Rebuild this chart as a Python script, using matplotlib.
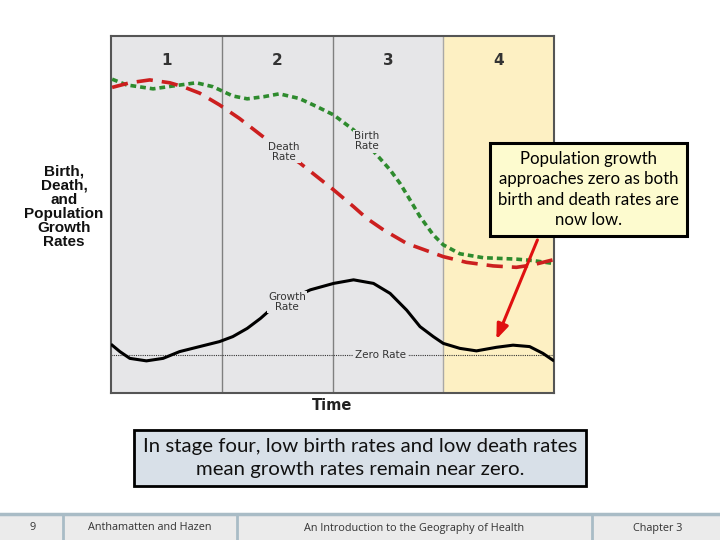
import matplotlib
matplotlib.use("Agg")
import matplotlib.pyplot as plt
from matplotlib.patches import Rectangle

# stage axis: 0..4 (one unit per stage), rates 0..100
stage_labels = ["1", "2", "3", "4"]

birth_x = [0.01, 0.14, 0.38, 0.56, 0.77, 0.92, 1.10, 1.23, 1.38, 1.52, 1.70, 1.86, 2.01,
           2.19, 2.40, 2.52, 2.61, 2.70, 2.79, 2.91, 3.00, 3.15, 3.36, 3.66, 3.81, 3.99]
birth_y = [87.9, 86.3, 85.2, 86.0, 86.9, 85.8, 83.2, 82.4, 83.0, 83.8, 82.5, 80.2, 77.9,
           73.7, 66.7, 62.5, 58.7, 54.1, 49.4, 44.3, 41.5, 39.0, 37.9, 37.5, 37.1, 36.3]

death_x = [0.01, 0.17, 0.35, 0.53, 0.65, 0.80, 0.98, 1.16, 1.41, 1.71, 1.86, 2.01, 2.19,
           2.31, 2.46, 2.67, 3.00, 3.21, 3.45, 3.66, 3.81, 3.99]
death_y = [85.6, 86.9, 87.7, 86.9, 85.8, 84.0, 80.7, 76.9, 70.9, 64.3, 60.6, 56.9, 52.2,
           48.9, 45.7, 41.9, 38.2, 36.6, 35.6, 35.2, 35.9, 37.3]

growth_x = [0.01, 0.08, 0.17, 0.32, 0.47, 0.62, 0.80, 0.98, 1.10, 1.23, 1.35, 1.47, 1.80,
            2.01, 2.19, 2.37, 2.52, 2.67, 2.79, 2.91, 3.00, 3.15, 3.30, 3.48, 3.63, 3.78,
            3.90, 3.99]
growth_y = [13.4, 11.6, 9.7, 9.0, 9.7, 11.6, 13.0, 14.4, 15.8, 18.1, 20.9, 24.2, 28.9,
            30.7, 31.7, 30.7, 27.9, 23.2, 18.6, 15.8, 13.9, 12.5, 11.8, 12.8, 13.4, 13.0,
            11.1, 9.2]

zero_rate = 10.6

bg_grey = "#E6E6E8"
stage4_col = "#FDF0C3"

fig = plt.figure(figsize=(7.2, 5.4), dpi=100)

# footer band
bg = fig.add_axes([0, 0, 1, 1])
bg.set_xlim(0, 720)
bg.set_ylim(540, 0)
bg.axis("off")
bg.add_patch(Rectangle((0, 514), 720, 26, facecolor="#EBEBEB", edgecolor="none"))
bg.plot([0, 720], [514, 514], color="#A9BCC6", lw=2.5)
for sx in [63, 237, 592]:
    bg.plot([sx, sx], [514, 540], color="#A9BCC6", lw=2)
foot_kw = dict(ha="center", va="center", fontsize=7.8, color="#333333", family="Open Sans")
bg.text(33, 528, "9", **foot_kw)
bg.text(150, 528, "Anthamatten and Hazen", **foot_kw)
bg.text(414, 528, "An Introduction to the Geography of Health", **foot_kw)
bg.text(658, 528, "Chapter 3", **foot_kw)

# main chart
ax = fig.add_axes([111 / 720, 147 / 540, 443 / 720, 357 / 540])
ax.set_xlim(0, 4)
ax.set_ylim(0, 100)
ax.set_facecolor(bg_grey)
ax.axvspan(3, 4, color=stage4_col, zorder=0)
for s in [1, 2]:
    ax.axvline(s, color="#808080", lw=1, zorder=1)
ax.axvline(3, color="#A8A8A8", lw=1, zorder=1)
for sp in ax.spines.values():
    sp.set_color("#555555")
    sp.set_linewidth(1.5)
ax.set_xticks([])
ax.set_yticks([])

for i, lab in enumerate(stage_labels):
    ax.text(i + 0.5, 93, lab, ha="center", va="center", fontsize=11,
            fontweight="bold", color="#333333")

ax.axhline(zero_rate, color="#333333", lw=0.8, ls=(0, (1, 1)), zorder=2)
ax.plot(growth_x, growth_y, color="black", lw=2.2, zorder=3)
ax.plot(birth_x, birth_y, color="#2E8B2E", lw=2.6, ls=(0, (1.6, 1.1)), zorder=4)
ax.plot(death_x, death_y, color="#CC1F1F", lw=2.6, ls=(0, (4.5, 2.5)), zorder=5)

lab_kw = dict(ha="center", va="center", fontsize=7.5, color="#333333", linespacing=1.0,
              zorder=6)
ax.text(1.56, 67.5, "Death\nRate", bbox=dict(facecolor=bg_grey, edgecolor="none", pad=1),
        **lab_kw)
ax.text(2.31, 70.5, "Birth\nRate", bbox=dict(facecolor=bg_grey, edgecolor="none", pad=1),
        **lab_kw)
ax.text(1.59, 25.5, "Growth\nRate", bbox=dict(facecolor=bg_grey, edgecolor="none", pad=1),
        **lab_kw)
ax.text(2.43, zero_rate, "Zero Rate", bbox=dict(facecolor=bg_grey, edgecolor="none", pad=1.5),
        **lab_kw)

ax.text(2.0, -3.6, "Time", ha="center", va="center", fontsize=10.5, fontweight="bold",
        color="#222222", clip_on=False)
fig.text(64 / 720, 1 - 207 / 540, "Birth,\nDeath,\nand\nPopulation\nGrowth\nRates",
         ha="center", va="center", fontsize=11, fontweight="bold", linespacing=1.0,
         color="#111111", family="Liberation Sans")

# callout box and arrow
fig.text(588.5 / 720, 1 - 189.5 / 540,
         "Population growth\napproaches zero as both\nbirth and death rates are\nnow low.",
         ha="center", va="center", fontsize=12.1, family="Lato", linespacing=1.33,
         bbox=dict(boxstyle="square,pad=0.5", facecolor="#FDFBCF", edgecolor="black", lw=2.2),
         zorder=10)
ax.annotate("", xy=(3.47, 14.3), xytext=(3.86, 43.6),
            arrowprops=dict(arrowstyle="-|>,head_length=0.9,head_width=0.35",
                            color="#E01010", lw=2.2),
            zorder=9, annotation_clip=False)

# caption box
fig.text(360 / 720, 1 - 458 / 540,
         "In stage four, low birth rates and low death rates\nmean growth rates remain near zero.",
         ha="center", va="center", fontsize=14.7, family="Lato", linespacing=1.4,
         color="#111111",
         bbox=dict(boxstyle="square,pad=0.42", facecolor="#D8E0E8", edgecolor="black", lw=2))

fig.savefig("out.png", dpi=100)
